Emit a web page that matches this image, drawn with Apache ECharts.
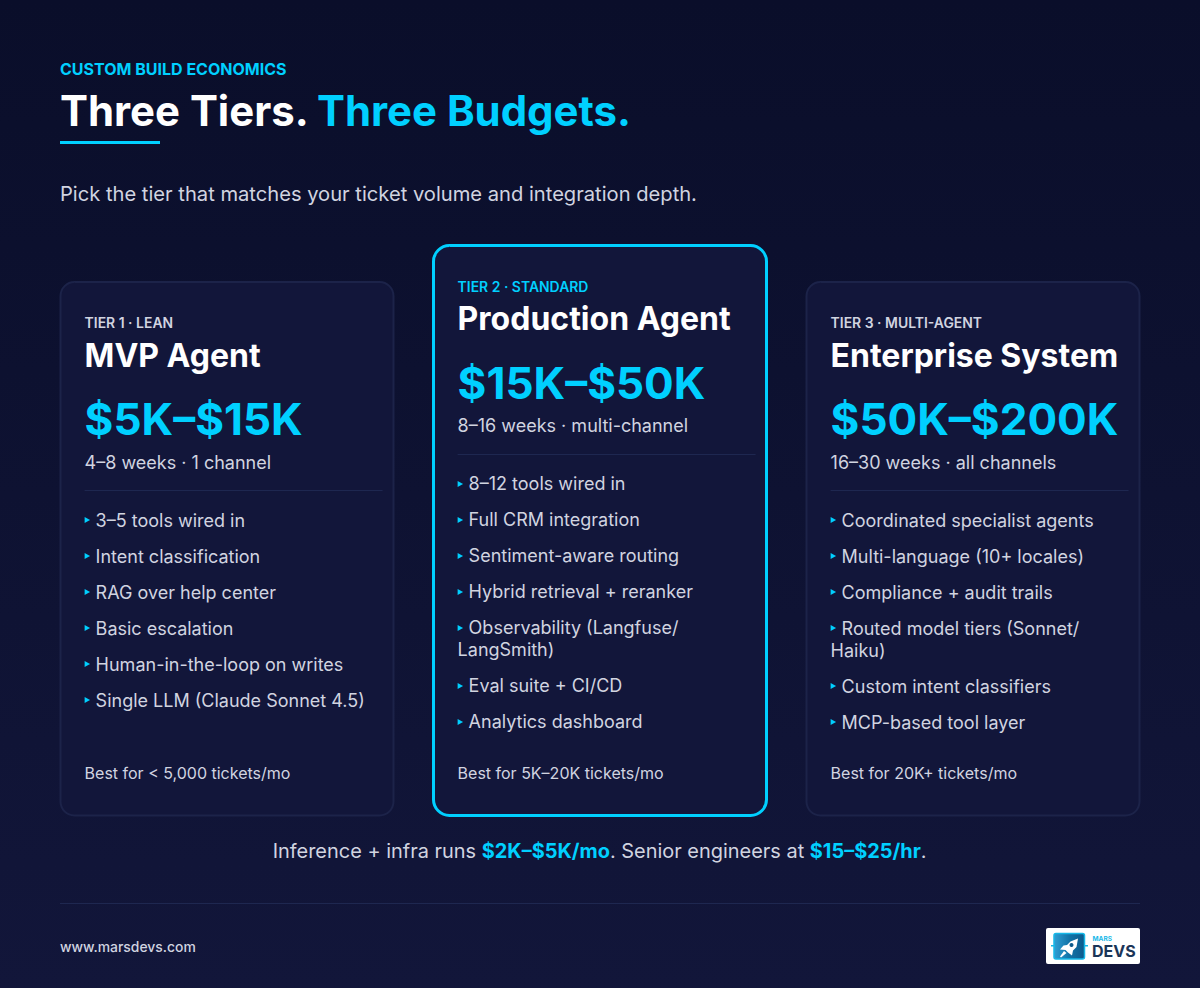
<!DOCTYPE html>
<html>
<head>
<meta charset="utf-8">
<style>
  html, body { margin: 0; padding: 0; background: #0b0f2c; }
  #chart { width: 1200px; height: 988px; }
</style>
<script src="https://cdn.jsdelivr.net/npm/echarts@6/dist/echarts.min.js"></script>
</head>
<body>
<div id="chart"></div>
<script>
var eyebrow = 'CUSTOM BUILD ECONOMICS';
var titleWhite = 'Three Tiers.';
var titleCyan = 'Three Budgets.';
var subtitle = 'Pick the tier that matches your ticket volume and integration depth.';

var tierTags = ['TIER 1 · LEAN', 'TIER 2 · STANDARD', 'TIER 3 · MULTI-AGENT'];
var tierNames = ['MVP Agent', 'Production Agent', 'Enterprise System'];
var tierPrices = ['$5K–$15K', '$15K–$50K', '$50K–$200K'];
var tierMeta = ['4–8 weeks · 1 channel', '8–16 weeks · multi-channel', '16–30 weeks · all channels'];
var tierBest = ['Best for < 5,000 tickets/mo', 'Best for 5K–20K tickets/mo', 'Best for 20K+ tickets/mo'];

var tier1Features = ['3–5 tools wired in', 'Intent classification', 'RAG over help center', 'Basic escalation',
  'Human-in-the-loop on writes', 'Single LLM (Claude Sonnet 4.5)'];
var tier2Features = ['8–12 tools wired in', 'Full CRM integration', 'Sentiment-aware routing', 'Hybrid retrieval + reranker',
  'Observability (Langfuse/|LangSmith)', 'Eval suite + CI/CD', 'Analytics dashboard'];
var tier3Features = ['Coordinated specialist agents', 'Multi-language (10+ locales)', 'Compliance + audit trails',
  'Routed model tiers (Sonnet/|Haiku)', 'Custom intent classifiers', 'MCP-based tool layer'];
var tierFeatures = [tier1Features, tier2Features, tier3Features];

var footerUrl = 'www.marsdevs.com';

var cyan = '#00d0ff';
var white = '#ffffff';
var soft = '#d1d4e0';
var font = 'Inter';

var chart = echarts.init(document.getElementById('chart'), null, { renderer: 'svg' });
var els = [];

function text(x, y, str, size, weight, color, align) {
  els.push({
    type: 'text', x: x, y: y, silent: true,
    style: { text: str, fontFamily: font, fontSize: size, fontWeight: weight, fill: color,
      align: align || 'left', verticalAlign: 'middle' }
  });
}
function box(x, y, w, h, r, fill, stroke, lw) {
  els.push({
    type: 'rect', silent: true,
    shape: { x: x, y: y, width: w, height: h, r: r },
    style: { fill: fill, stroke: stroke || null, lineWidth: lw || 0 }
  });
}
function poly(points, fill) {
  els.push({ type: 'polygon', silent: true, shape: { points: points }, style: { fill: fill } });
}

// ===== Header =====
text(60, 69, eyebrow, 16, 700, cyan);
text(60, 110.4, titleWhite, 41.9, 700, white);
text(317, 110.4, titleCyan, 41.9, 700, cyan);
box(60, 141, 100, 3, 0, cyan);
text(60, 193.6, subtitle, 20.15, 400, soft);

// ===== Cards =====
var cardX = [60.5, 433.5, 806.5];
var cardY = [282, 245.5, 282];
var textX = [84.6, 457.6, 830.6];
var textTop = [283, 246.9, 283];
var cardW = 333;
var cardBottom = 815.5;

tierNames.forEach(function (name, i) {
  var top = textTop[i], pad = textX[i], isMid = i === 1;
  if (isMid) box(cardX[i], cardY[i], cardW, cardBottom - cardY[i], 16, '#12163a', cyan, 3);
  else box(cardX[i], cardY[i], cardW, cardBottom - cardY[i], 14, '#12163a', '#1c2349', 2);

  text(pad, top + 39.6, tierTags[i], 13.95, 600, isMid ? cyan : soft);
  text(pad, top + 72, name, 32, 700, white);
  text(pad, top + 136.1, tierPrices[i], 44, 700, cyan);
  text(pad, top + 179, tierMeta[i], 18, 400, soft);
  box(pad, Math.round(top + 207), 298, 1, 0, '#1e2750');

  var y = top + 237;
  tierFeatures[i].forEach(function (f) {
    var lines = f.split('|');
    poly([[pad, y - 3], [pad + 5.5, y], [pad, y + 3]], cyan);
    text(pad + 11, y, lines[0], 18, 400, soft);
    if (lines[1]) {
      y += 22;
      text(pad, y, lines[1], 18, 400, soft);
    }
    y += 36;
  });

  text(pad, 773, tierBest[i], 16, 400, soft);
});

// ===== Bottom note =====
els.push({
  type: 'text', x: 599.6, y: 851, silent: true,
  style: {
    text: 'Inference + infra runs {b|$2K–$5K/mo}. Senior engineers at {b|$15–$25/hr}.',
    fontFamily: font, fontSize: 19.95, fill: soft, align: 'center', verticalAlign: 'middle',
    rich: { b: { fontFamily: font, fontSize: 19.95, fontWeight: 700, fill: cyan } }
  }
});

// ===== Footer =====
box(60, 903, 1080, 1, 0, '#1e2750');
text(60, 947, footerUrl, 13.9, 500, soft);

// logo
box(1046, 928, 94, 36, 2, '#ffffff');
els.push({
  type: 'rect', silent: true,
  shape: { x: 1054, y: 933.5, width: 30.5, height: 25.5, r: 2 },
  style: {
    fill: { type: 'linear', x: 0, y: 0, x2: 1, y2: 0,
      colorStops: [{ offset: 0, color: '#2f9fd4' }, { offset: 0.5, color: '#1274a8' }, { offset: 1, color: '#0d5a8c' }] },
    stroke: '#16b8e8', lineWidth: 1.5
  }
});
box(1051, 945, 4, 1.5, 0, '#16b8e8');
box(1084, 945, 4, 1.5, 0, '#16b8e8');
poly([[1078, 938.5], [1076.5, 947], [1073, 950.5], [1072, 955.5], [1068, 952.5], [1065.5, 950], [1060, 949.5], [1063.5, 945.5], [1067, 945], [1070.5, 941.5]], '#ffffff');
poly([[1064, 951], [1066.5, 953], [1061, 957.5], [1060, 956.5]], '#ffffff');
els.push({
  type: 'circle', silent: true,
  shape: { cx: 1071.5, cy: 945, r: 2 },
  style: { fill: '#0d5a8c' }
});
text(1092.5, 938.5, 'MARS', 6.5, 700, '#16b8e8');
text(1092, 950.5, 'DEVS', 16, 700, '#1b3558');

chart.setOption({
  animation: false,
  backgroundColor: {
    type: 'linear', x: 0, y: 0, x2: 0, y2: 1,
    colorStops: [{ offset: 0, color: '#0a0e2a' }, { offset: 1, color: '#12163a' }]
  },
  graphic: { elements: els }
});
window.addEventListener('resize', function () { chart.resize(); });
</script>
</body>
</html>
